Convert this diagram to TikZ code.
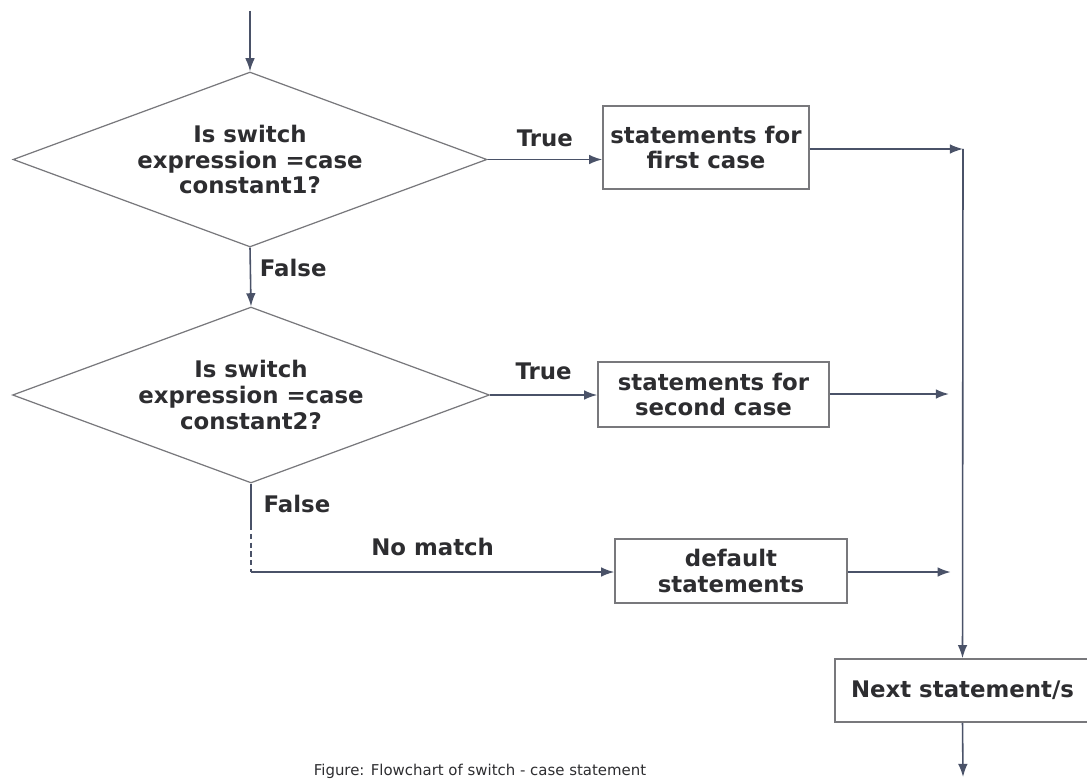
\documentclass[tikz,border=0pt]{standalone}
\usepackage{fontspec}
\setmainfont{DejaVu Sans}
\usepackage{tikz}
\usetikzlibrary{arrows,arrows.meta}
\usetikzlibrary{shapes.geometric}
\definecolor{flowline}{RGB}{74,82,104}
\definecolor{boxline}{RGB}{120,120,124}
\definecolor{flowtext}{RGB}{45,45,48}
\tikzstyle{decide}=[diamond, draw=boxline, line width=0.7pt, aspect=2.7, inner sep=0pt, align=center, text=flowtext, font=\fontsize{13}{14.7}\selectfont\bfseries]
\tikzstyle{stmt}=[rectangle, draw=boxline, line width=0.9pt, inner sep=0pt, align=center, text=flowtext, font=\fontsize{13}{14.7}\selectfont\bfseries]
\tikzstyle{to}=[-{Latex[length=7.5pt,width=5.5pt]}, draw=flowline, fill=flowline, line width=0.9pt]

\begin{document}
\begin{tikzpicture}[x=0.02cm, y=-0.02cm]

\tikzstyle{lbl}=[inner sep=0pt, text=flowtext, font=\fontsize{13}{14.7}\selectfont\bfseries]

\useasboundingbox (0,0) rectangle (1087,780);

\coordinate (start) at (250,11);

\node (D1) [decide, minimum width=9.48cm, minimum height=3.5cm] at (250,159.5)
	{Is switch\\expression =case\\constant1?};
\node (D2) [decide, minimum width=9.54cm, minimum height=3.52cm] at (251,395)
	{Is switch\\expression =case\\constant2?};

\node (S1) [stmt, minimum width=4.12cm, minimum height=1.66cm] at (706,147.5)
	{statements for\\first case};
\node (S2) [stmt, minimum width=4.62cm, minimum height=1.3cm] at (713.5,394.5)
	{statements for\\second case};
\node (S3) [stmt, minimum width=4.64cm, minimum height=1.28cm] at (731,571)
	{default\\statements};
\node (N) [stmt, minimum width=5.1cm, minimum height=1.26cm] at (962.5,690.5)
	{Next statement/s};

\coordinate (J1) at (963,149);
\coordinate (J2) at (963,394);
\coordinate (J3) at (963,572);
\coordinate (F2) at (251,525);
\coordinate (C3) at (251,572);
\coordinate (out) at (963,777);

% decisions
\draw [to] (start) -- (D1.north);
\draw [to] (D1.south) -- node [lbl, right=5pt, pos=0.35] {False} (D2.north);
\draw [to] (D1.east) -- node [lbl, above=7pt] {True} (S1.west |- D1.east);
\draw [to] (D2.east) -- node [lbl, above=8pt] {True} (S2.west |- D2.east);
\draw [draw=flowline, line width=0.9pt] (D2.south) -- (F2);
\node [lbl] at (297,504) {False};
\draw [draw=flowline, line width=0.9pt, densely dashed] (F2) -- (C3);
\draw [to] (C3) -- node [lbl, above=9pt, pos=0.5] {No match} (S3.west |- C3);

% merge
\draw [to] (S1.east |- J1) -- (J1);
\draw [to, shorten >=8pt] (S2.east |- J2) -- (J2);
\draw [to, shorten >=7pt] (S3.east |- J3) -- (J3);
\draw [to] (J1) -- (N.north);
\draw [to] (N.south) -- (out);

\node (cap) [anchor=base, inner sep=0pt, text=flowtext, font=\fontsize{8.5}{10}\selectfont] at (480,775)
	{Figure: Flowchart of switch - case statement};

\end{tikzpicture}
\end{document}
